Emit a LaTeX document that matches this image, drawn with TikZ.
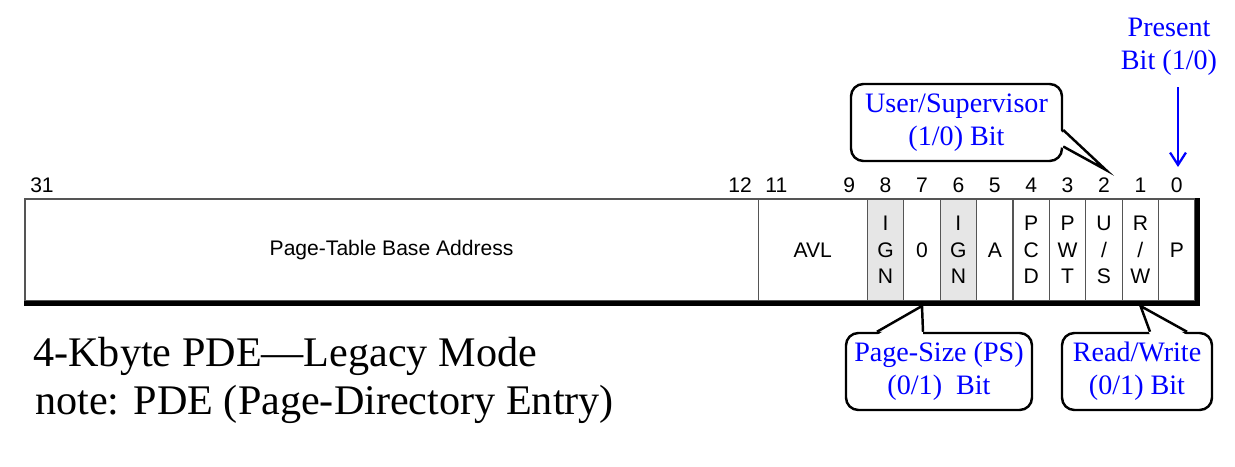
\documentclass[tikz,border=0pt]{standalone}
\usepackage{fontspec}
\setmainfont{Liberation Serif}
\setsansfont{Liberation Sans}
\usepackage{xcolor}
\usepackage{tikz}
\usetikzlibrary{positioning,arrows.meta}
\definecolor{igngray}{RGB}{230,230,230}
\definecolor{edgegray}{RGB}{85,85,85}

\begin{document}
\begin{tikzpicture}[
    cell/.style={draw=edgegray, line width=0.6pt, minimum height=2.04cm, minimum width=0.728cm,
      inner sep=0pt, align=center, font=\sffamily\fontsize{12}{15}\selectfont},
    bitnum/.style={font=\sffamily\fontsize{12}{13}\selectfont, inner sep=1pt},
    bubble/.style={draw, line width=1.4pt, rounded corners=7pt, fill=white, minimum height=1.54cm,
      inner sep=2pt, align=center, text=blue, font=\fontsize{16}{19}\selectfont},
    tail/.style={line width=1.4pt, line join=miter},
    heavy/.style={line width=2.8pt}
  ]
    \useasboundingbox (0,0) rectangle (24.7,9.32);
    % register fields
    \node[cell, minimum width=14.664cm] (base) at (7.832,4.32) {Page-Table Base Address};
    \node[cell, minimum width=2.184cm] (avl) at (16.256,4.32) {AVL};
    \foreach \b/\lbl/\shade in {0/P/white, 1/{R\\/\\W}/white, 2/{U\\/\\S}/white, 3/{P\\W\\T}/white,
        4/{P\\C\\D}/white, 5/A/white, 6/{I\\G\\N}/igngray, 7/0/white, 8/{I\\G\\N}/igngray}
      \node[cell, fill=\shade] (b\b) at ({23.9-0.728*(\b+0.5)},4.32) {\lbl};
    \draw[heavy] ([yshift=-1.2pt]base.south west) -- ([xshift=1.2pt,yshift=-1.2pt]b0.south east)
      -- ([xshift=1.2pt]b0.north east);

    % bit numbers
    \node[bitnum] (n31) at (0.84,5.62) {31};
    \foreach \b in {0,1,2,3,4,5,6,7,8,9,11,12}
      \node[bitnum] (n\b) at ({23.9-0.728*(\b+0.5)},5.62) {\b};

    % callouts
    \node[bubble, minimum width=4.22cm] (us) at (19.13,6.87) {User/Supervisor\\(1/0) Bit};
    \node[bubble, minimum width=3.72cm] (ps) at (18.78,1.89) {Page-Size (PS)\\(0/1)\ \ Bit};
    \node[bubble, minimum width=3.0cm] (rw) at (22.74,1.89) {Read/Write\\(0/1) Bit};
    \coordinate (ustip) at (22.12,5.92);
    \coordinate (pstip) at (18.44,3.20);
    \coordinate (rwtip) at (22.81,3.20);
    \fill[white] ([shift={(-0.07,-0.15)}]us.east) -- (ustip) -- ([shift={(-0.07,-0.48)}]us.east) -- cycle;
    \draw[tail] ([yshift=-0.15cm]us.east) -- (ustip) -- ([yshift=-0.48cm]us.east);
    \fill[white] ([shift={(-1.24,-0.07)}]ps.north) -- (pstip) -- ([shift={(-0.32,-0.07)}]ps.north) -- cycle;
    \draw[tail] ([xshift=-1.24cm]ps.north) -- (pstip) -- ([xshift=-0.32cm]ps.north);
    \fill[white] ([shift={(0.26,-0.07)}]rw.north) -- (rwtip) -- ([shift={(1.0,-0.07)}]rw.north) -- cycle;
    \draw[tail] ([xshift=0.26cm]rw.north) -- (rwtip) -- ([xshift=1.0cm]rw.north);

    % present bit
    \node[text=blue, font=\fontsize{16}{19}\selectfont, align=center] (present) at (23.38,8.38) {Present\\Bit (1/0)};
    \coordinate (ptip) at (23.56,5.98);
    \draw[-{Straight Barb[length=7pt,width=9pt]}, blue, line width=1.3pt, shorten <=3pt]
      (present.south -| ptip) -- (ptip);

    % caption
    \node[anchor=base west, inner sep=0pt, font=\fontsize{24}{27}\selectfont] (legacy) at (0.66,1.98)
      {4-Kbyte PDE---Legacy Mode};
    \node[anchor=base west, inner sep=0pt, font=\fontsize{24}{27}\selectfont] (note) at (0.70,1.02)
      {note: PDE (Page-Directory Entry)};
  \end{tikzpicture}
\end{document}
